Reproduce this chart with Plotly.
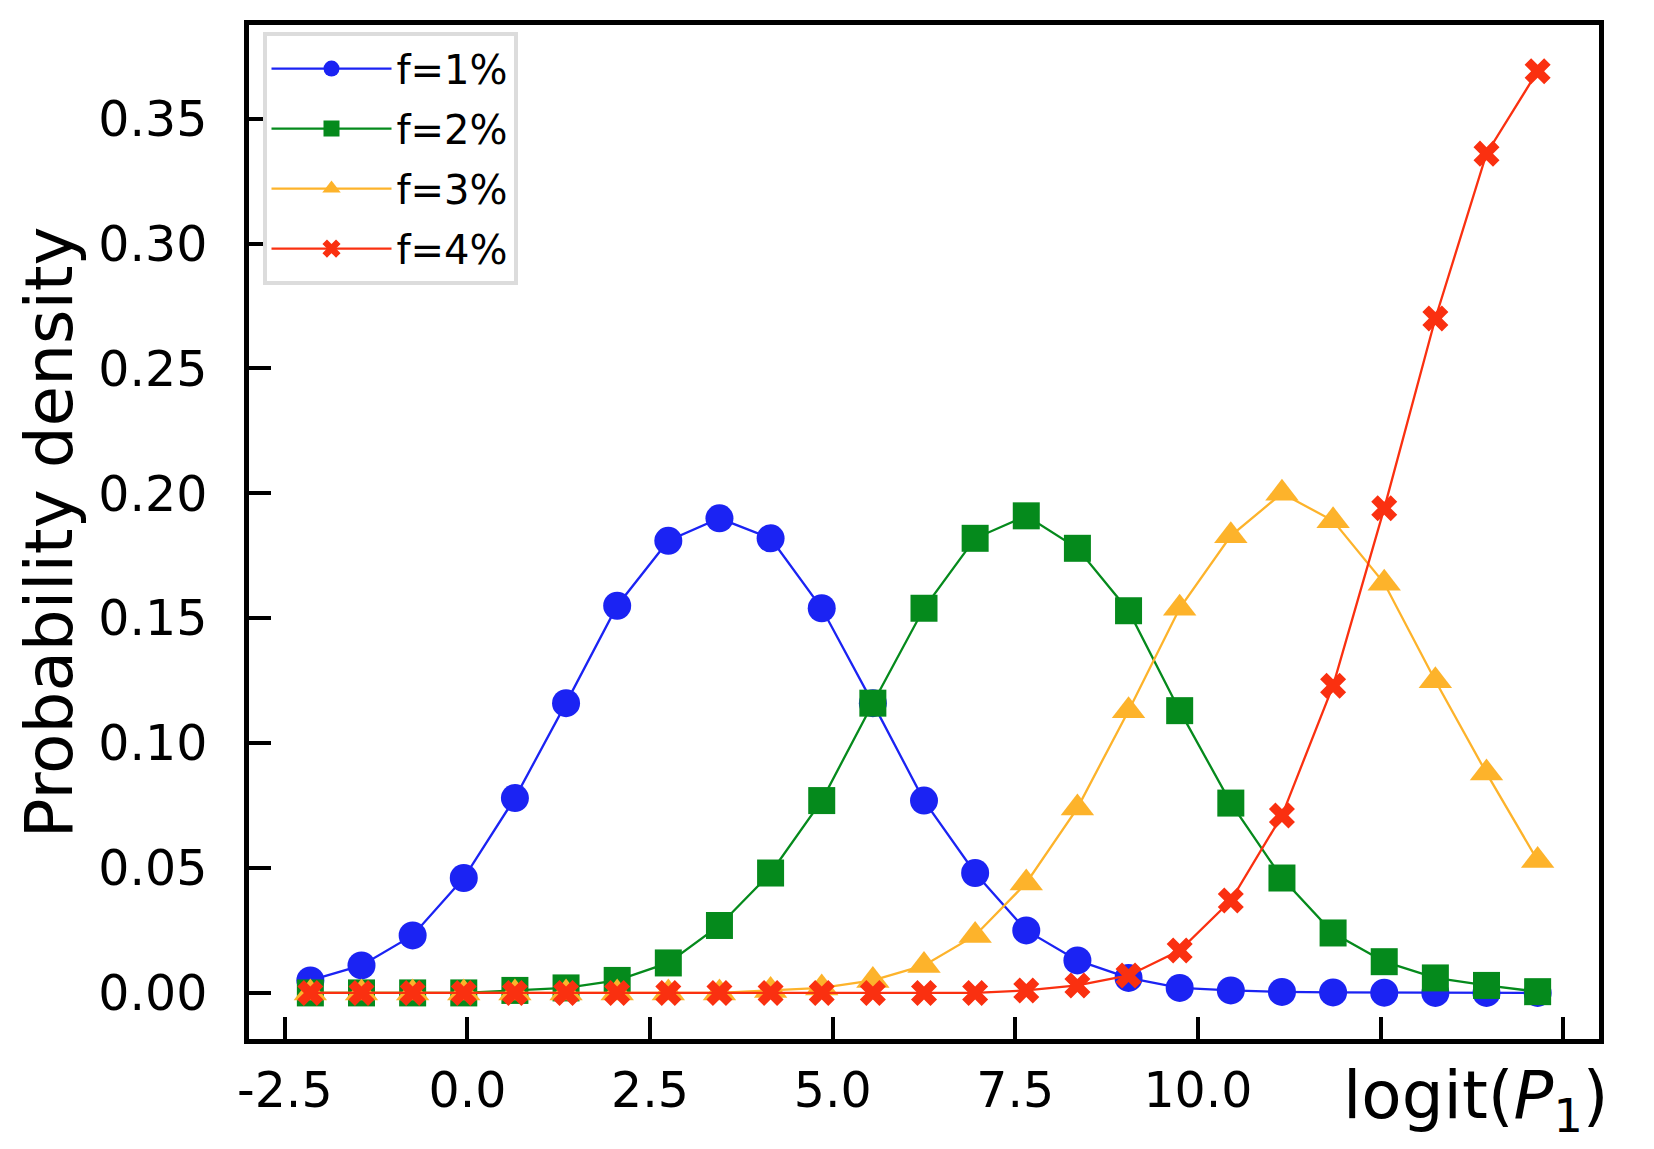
import plotly.graph_objects as go

# logit(P1) sample points
x_vals = [-2.15, -1.45, -0.75, -0.05, 0.65, 1.35, 2.05, 2.75, 3.45, 4.15,
          4.85, 5.55, 6.25, 6.95, 7.65, 8.35, 9.05, 9.75, 10.45, 11.15,
          11.85, 12.55, 13.25, 13.95, 14.65]

f1 = [0.005, 0.011, 0.023, 0.046, 0.078, 0.116, 0.155, 0.181, 0.190, 0.182,
      0.154, 0.116, 0.077, 0.048, 0.025, 0.013, 0.006, 0.002, 0.001, 0.0004,
      0.0002, 0.0001, 0.0, 0.0, 0.0]
f2 = [0.0, 0.0, 0.0, 0.0, 0.001, 0.002, 0.005, 0.012, 0.027, 0.048,
      0.077, 0.116, 0.154, 0.182, 0.191, 0.178, 0.153, 0.113, 0.076, 0.046,
      0.024, 0.0125, 0.006, 0.003, 0.0005]
f3 = [0.0, 0.0, 0.0, 0.0, 0.0, 0.0, 0.0, 0.0, 0.0, 0.001,
      0.002, 0.005, 0.011, 0.023, 0.044, 0.074, 0.113, 0.154, 0.183, 0.200,
      0.189, 0.164, 0.125, 0.088, 0.053]
f4 = [0.0, 0.0, 0.0, 0.0, 0.0, 0.0, 0.0, 0.0, 0.0, 0.0,
      0.0, 0.0, 0.0, 0.0, 0.001, 0.003, 0.007, 0.017, 0.037, 0.071,
      0.123, 0.194, 0.270, 0.336, 0.369]

names = ['f=1%', 'f=2%', 'f=3%', 'f=4%']
series = [f1, f2, f3, f4]
colours = ['#1b23f3', '#058a1c', '#fdb32b', '#fa3010']
symbols = ['circle', 'square', 'triangle-up', 'x']
sizes = [28, 27, 29, 23]

x_ticks = [-2.5, 0.0, 2.5, 5.0, 7.5, 10.0, 12.5, 15.0]
x_ticktext = ['-2.5', '0.0', '2.5', '5.0', '7.5', '10.0', '', '']
y_ticks = [0.0, 0.05, 0.10, 0.15, 0.20, 0.25, 0.30, 0.35]

FONT = 'DejaVu Sans'

fig = go.Figure()
for name, ys, col, sym, sz in zip(names, series, colours, symbols, sizes):
    fig.add_trace(go.Scatter(
        x=x_vals, y=ys, mode='lines+markers', name=name, legendgroup=name,
        line=dict(color=col, width=2.3),
        marker=dict(symbol=sym, size=sz, color=col, line=dict(width=0))
    ))

axis_common = dict(
    showline=True, linecolor='black', linewidth=4.5, mirror=True,
    ticks='inside', ticklen=22, tickwidth=4, tickcolor='black',
    showgrid=False, zeroline=False,
    tickfont=dict(family=FONT, size=49, color='black'),
)

fig.update_xaxes(range=[-2.99, 15.49], tickvals=x_ticks, ticktext=x_ticktext,
                 ticklabelstandoff=4, **axis_common)
fig.update_yaxes(range=[-0.01845, 0.3875], tickvals=y_ticks, tickformat='.2f',
                 ticklabelstandoff=27, **axis_common)

fig.add_annotation(
    text='Probability density', xref='paper', yref='paper',
    x=-0.148, y=0.5, textangle=-90, showarrow=False,
    xanchor='center', yanchor='middle',
    font=dict(family=FONT, size=66, color='black')
)
fig.add_annotation(
    text='logit(<i>P</i><sub>1</sub>)', xref='paper', yref='paper',
    x=1.009, y=-0.060, showarrow=False, xanchor='right', yanchor='middle',
    font=dict(family=FONT, size=66, color='black')
)

fig.update_layout(
    width=1654, height=1149,
    margin=dict(l=241, r=63, t=13, b=118),
    plot_bgcolor='white', paper_bgcolor='white',
    showlegend=True,
    legend=dict(
        x=0.010, y=0.993, xanchor='left', yanchor='top',
        bgcolor='white', bordercolor='#dcdcdc', borderwidth=4,
        font=dict(family=FONT, size=40, color='black'),
        itemwidth=120, tracegroupgap=5
    )
)

fig.write_html("out.html")
